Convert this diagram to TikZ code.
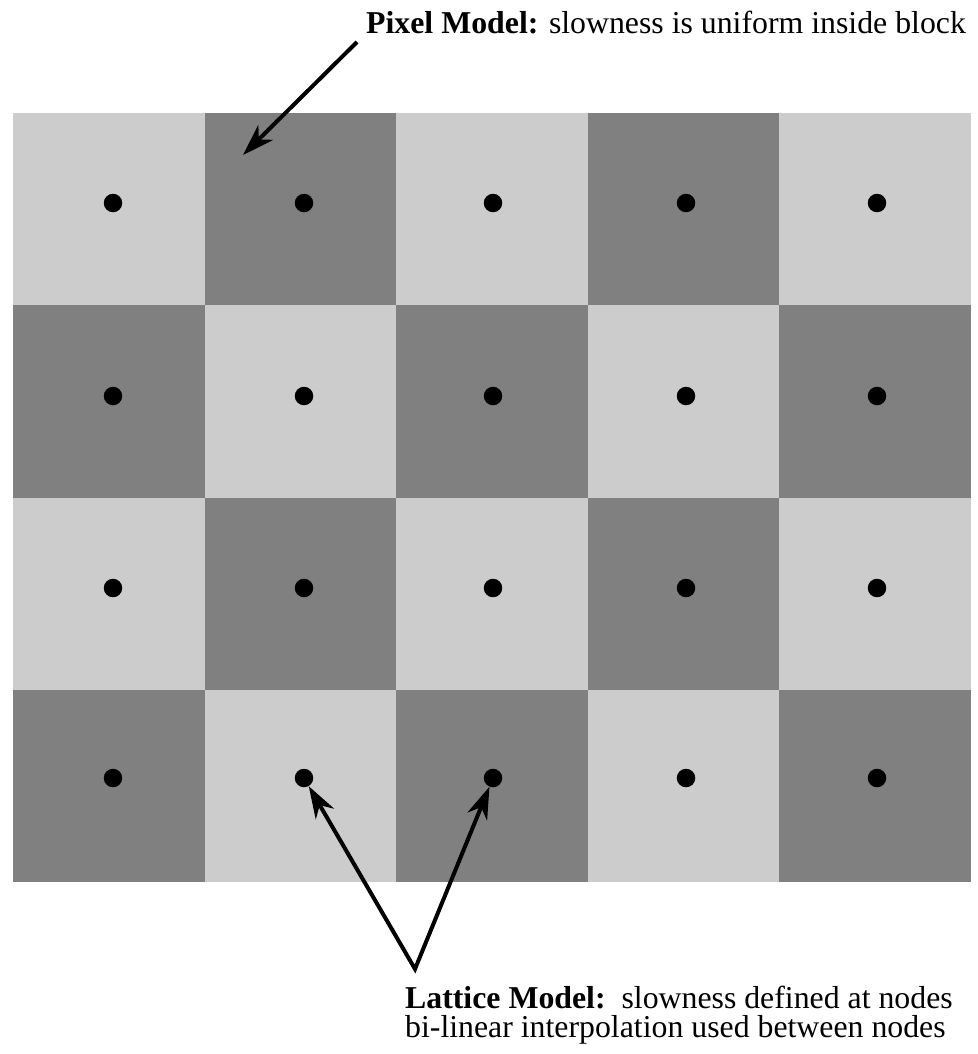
\documentclass[tikz,border=0pt]{standalone}
\usepackage{fontspec}
\setmainfont{Liberation Serif}
\usetikzlibrary{arrows.meta}
\begin{document}
\begin{tikzpicture}[x=1pt,y=-1pt,
  lightcell/.style={fill=black!20},
  darkcell/.style={fill=black!50},
  dot/.style={circle,fill=black,inner sep=0pt,minimum size=18.5pt},
  pointer/.style={line width=4pt,-{Stealth[length=32pt,width=21pt,inset=10pt]}},
  twopointer/.style={line width=4pt,line join=miter,{Stealth[length=32pt,width=21pt,inset=10pt]}-{Stealth[length=32pt,width=21pt,inset=10pt]}},
  lbl/.style={font=\fontsize{31.8}{34}\selectfont,inner sep=0pt,anchor=base west}]
\useasboundingbox (0,0) rectangle (977,1054);
% cells
\foreach \r in {0,...,3}{
  \foreach \c in {0,...,4}{
    \pgfmathtruncatemacro{\cellpar}{mod(\r+\c,2)}
    \ifnum\cellpar=0
      \path[lightcell] (13+191.6*\c,113+192.25*\r) rectangle ++(191.6,192.25);
    \else
      \path[darkcell] (13+191.6*\c,113+192.25*\r) rectangle ++(191.6,192.25);
    \fi
  }
}
% lattice nodes
\foreach \y [count=\r] in {203,396,588,778}{
  \foreach \x [count=\c] in {113,304,493,686,877}{
    \node[dot] (d\r\c) at (\x,\y) {};
  }
}
% labels
\node[lbl] (pix) at (366,34) {\textbf{Pixel Model:} slowness is uniform inside block};
\node[lbl] (lat1) at (405,1008) {\textbf{Lattice Model:}\ \ slowness defined at nodes};
\node[lbl] (lat2) at (405,1037) {bi-linear interpolation used between nodes};
% pointers
\coordinate (pixstart) at (357,42);
\coordinate (pixtip) at (243,155);
\draw[pointer] (pixstart) -- (pixtip);
\coordinate (apex) at (415,969);
\draw[twopointer] (d42) -- (apex) -- (d43);
\end{tikzpicture}
\end{document}
